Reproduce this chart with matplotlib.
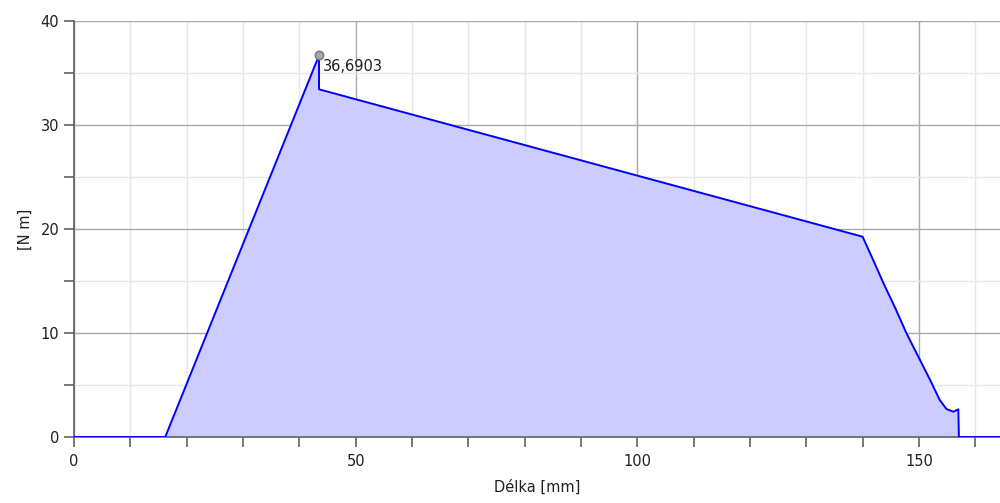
import matplotlib.pyplot as plt
from matplotlib.ticker import MultipleLocator

# Délka [mm] vs moment [N m]
delka = [0, 16.2, 43.5, 43.5, 140.0, 141.9, 143.7, 145.8, 147.8, 149.9,
         152.0, 153.7, 154.9, 156.1, 157.0, 157.1, 164.4]
moment = [0, 0, 36.6903, 33.43, 19.26, 17.0, 14.8, 12.4, 9.97, 7.72,
          5.48, 3.56, 2.69, 2.43, 2.66, 0, 0]
peak_x = 43.5
peak_y = 36.6903
peak_label = "36,6903"

fig = plt.figure(figsize=(10, 5.03), dpi=100)
ax = fig.add_axes([0.074, 0.1312, 0.926, 0.8271])

ax.fill_between(delka, moment, 0, color="#ccccff", lw=0, zorder=2)
ax.plot(delka, moment, color="#0000ff", lw=1.4, zorder=3)
ax.plot(peak_x, peak_y, "o", ms=6, mfc="#a8a8a8", mec="#808080", mew=1.2, zorder=4)
ax.text(peak_x + 0.7, peak_y - 0.35, peak_label, fontsize=10.5, va="top", ha="left",
        color="#202020", zorder=5)

ax.set_xlim(0, 164.4)
ax.set_ylim(0, 40)
ax.xaxis.set_major_locator(MultipleLocator(50))
ax.xaxis.set_minor_locator(MultipleLocator(10))
ax.yaxis.set_major_locator(MultipleLocator(10))
ax.yaxis.set_minor_locator(MultipleLocator(5))

ax.grid(which="major", color="#a8a8a8", lw=1.0, zorder=1)
ax.grid(which="minor", color="#e6e6e6", lw=1.0, zorder=1)
ax.set_axisbelow(True)

for s in ["top", "right"]:
    ax.spines[s].set_visible(False)
for s in ["left", "bottom"]:
    ax.spines[s].set_color("#606060")
    ax.spines[s].set_linewidth(1.2)

ax.tick_params(which="both", direction="out", length=7, color="#606060", width=1.2,
               labelsize=10.5, labelcolor="#202020")
ax.tick_params(axis="x", pad=5)

ax.set_xlabel("Délka [mm]", fontsize=10.5, color="#202020", labelpad=8)
ax.set_ylabel("[N m]", fontsize=10.5, color="#202020", labelpad=6)

plt.savefig("out.png", dpi=100)
